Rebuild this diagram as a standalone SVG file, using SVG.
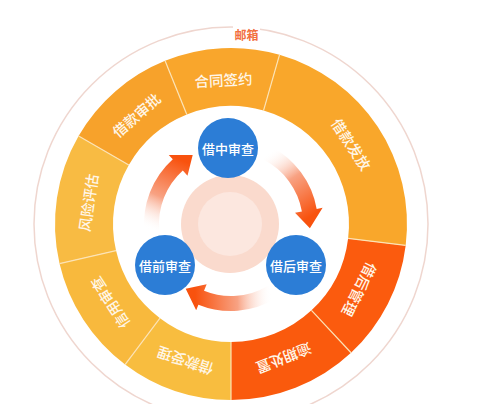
<svg xmlns="http://www.w3.org/2000/svg" width="477" height="404" viewBox="0 0 477 404">
<defs>
<style>
.seg-text{font-family:"Noto Sans CJK SC","Noto Sans",sans-serif;font-size:14.5px;font-weight:500;fill:#FFF6E8;text-anchor:middle;dominant-baseline:central}
.node-text{font-family:"Noto Sans CJK SC","Noto Sans",sans-serif;font-size:13px;font-weight:500;fill:#FFFFFF;text-anchor:middle;dominant-baseline:central}
.sep{stroke:#FCE3B6;stroke-width:1.2}
.node{fill:#2C7DD6}
.arrow{fill:url(#ag)}
</style>
<linearGradient id="ag" gradientUnits="userSpaceOnUse" x1="35.9" y1="-70.4" x2="78.7" y2="-6.9">
<stop offset="0" stop-color="#FFFFFF" stop-opacity="0"/>
<stop offset="0.45" stop-color="#F8A283"/>
<stop offset="1" stop-color="#F8520E"/>
</linearGradient>
</defs>
<rect width="477" height="404" fill="#FFFFFF"/>
<circle cx="231" cy="224" r="197" fill="none" stroke="#EFD6CF" stroke-width="1.5"/>
<g id="label-mail">
<rect x="233" y="24" width="27" height="16" fill="#FFFFFF"/>
<text x="246.5" y="34" font-family="'Noto Sans CJK SC','Noto Sans',sans-serif" font-size="12" font-weight="bold" fill="#F2703F" text-anchor="middle" dominant-baseline="central">邮箱</text>
</g>
<g id="seg-hetong"><path d="M165.07,60.81 A176,176 0 0 1 279.51,54.81 L263.52,110.57 A118,118 0 0 0 186.80,114.59 Z" fill="#F9A62C"/><text class="seg-text" x="231" y="79" transform="rotate(-3 231 224)">合同签约</text></g>
<g id="seg-fafang"><path d="M279.51,54.81 A176,176 0 0 1 405.68,245.45 L348.12,238.38 A118,118 0 0 0 263.52,110.57 Z" fill="#F9A72B"/><text class="seg-text" x="231" y="79" transform="rotate(56.5 231 224)">借款发放</text></g>
<g id="seg-jiehou"><path d="M405.68,245.45 A176,176 0 0 1 351.03,352.73 L311.48,310.31 A118,118 0 0 0 348.12,238.38 Z" fill="#FB5B0E"/><text class="seg-text" x="231" y="79" transform="rotate(117 231 224)">借后管理</text></g>
<g id="seg-yuqi"><path d="M351.03,352.73 A176,176 0 0 1 231,400 L231,342 A118,118 0 0 0 311.48,310.31 Z" fill="#FA5A0D"/><text class="seg-text" x="231" y="79" transform="rotate(158.5 231 224)">逾期处置</text></g>
<g id="seg-shouli"><path d="M231,400 A176,176 0 0 1 125.08,364.55 L159.99,318.23 A118,118 0 0 0 231,342 Z" fill="#F8BD3F"/><text class="seg-text" x="231" y="79" transform="rotate(198.5 231 224)">借款受理</text></g>
<g id="seg-xinyong"><path d="M125.08,364.55 A176,176 0 0 1 59.51,263.60 L116.02,250.55 A118,118 0 0 0 159.99,318.23 Z" fill="#F8B93D"/><text class="seg-text" x="231" y="79" transform="rotate(237 231 224)">信用审查</text></g>
<g id="seg-fengxian"><path d="M59.51,263.60 A176,176 0 0 1 78.58,136 L128.81,165 A118,118 0 0 0 116.02,250.55 Z" fill="#F8BB43"/><text class="seg-text" x="231" y="79" transform="rotate(278.5 231 224)">风险评估</text></g>
<g id="seg-shenpi"><path d="M78.58,136 A176,176 0 0 1 165.07,60.81 L186.80,114.59 A118,118 0 0 0 128.81,165 Z" fill="#F7A22B"/><text class="seg-text" x="231" y="79" transform="rotate(319 231 224)">借款审批</text></g>
<g id="separators">
<line class="sep" x1="165.07" y1="60.81" x2="186.80" y2="114.59"/>
<line class="sep" x1="279.51" y1="54.81" x2="263.52" y2="110.57"/>
<line class="sep" x1="405.68" y1="245.45" x2="348.12" y2="238.38"/>
<line class="sep" x1="351.03" y1="352.73" x2="311.48" y2="310.31"/>
<line class="sep" x1="231" y1="400" x2="231" y2="342"/>
<line class="sep" x1="125.08" y1="364.55" x2="159.99" y2="318.23"/>
<line class="sep" x1="59.51" y1="263.60" x2="116.02" y2="250.55"/>
<line class="sep" x1="78.58" y1="136" x2="128.81" y2="165"/>
</g>
<g id="hub">
<circle cx="230" cy="224" r="49" fill="#FADACD"/>
<circle cx="230" cy="224" r="32" fill="#FCE7DF"/>
</g>
<g id="connectors" transform="translate(231 224)">
<path class="arrow" d="M39.50,-77.52 A87,87 0 0 1 85.68,-15.11 L91.59,-16.15 L78.89,4.13 L64.01,-11.29 L70.91,-12.50 A72,72 0 0 0 32.69,-64.15 Z"/>
<path class="arrow" transform="rotate(122)" d="M39.50,-77.52 A87,87 0 0 1 85.68,-15.11 L91.59,-16.15 L78.89,4.13 L64.01,-11.29 L70.91,-12.50 A72,72 0 0 0 32.69,-64.15 Z"/>
<path class="arrow" transform="rotate(238)" d="M39.50,-77.52 A87,87 0 0 1 85.68,-15.11 L91.59,-16.15 L78.89,4.13 L64.01,-11.29 L70.91,-12.50 A72,72 0 0 0 32.69,-64.15 Z"/>
</g>
<g id="node-jiezhong"><circle class="node" cx="228" cy="148" r="30"/><text class="node-text" x="228" y="148">借中审查</text></g>
<g id="node-jieqian"><circle class="node" cx="165" cy="265" r="30"/><text class="node-text" x="165" y="265">借前审查</text></g>
<g id="node-jiehou"><circle class="node" cx="296" cy="265" r="30"/><text class="node-text" x="296" y="265">借后审查</text></g>
</svg>
